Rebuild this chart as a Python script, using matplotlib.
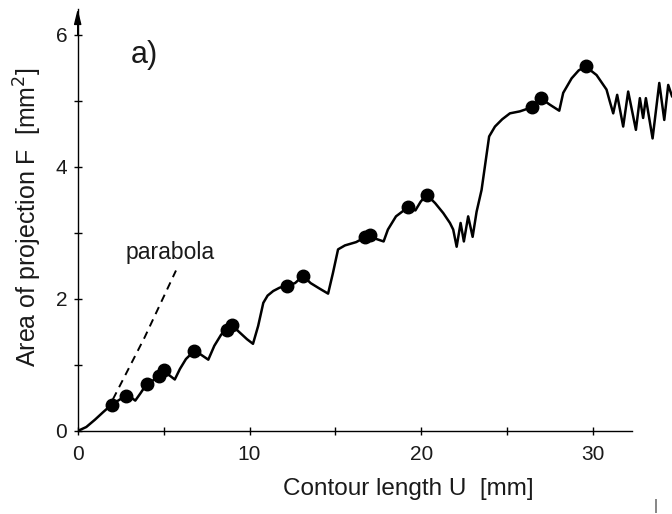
import matplotlib
matplotlib.use("Agg")
import matplotlib.pyplot as plt

# ---- data ----
contour_U = [0, 0.5, 1.0, 1.5, 1.98, 2.35, 2.79, 3.1, 3.35, 3.65,
             4.01, 4.35, 4.73, 5.00, 5.3, 5.65, 5.95, 6.3, 6.77, 7.15,
             7.6, 7.95, 8.35, 8.67, 8.96, 9.35, 9.85, 10.2, 10.5, 10.8,
             11.05, 11.38, 11.75, 12.19, 12.65, 13.12, 13.55, 14.05, 14.57, 14.85,
             15.15, 15.55, 16.2, 16.71, 17.00, 17.35, 17.8, 18.05, 18.52, 19.23,
             19.65, 19.95, 20.30, 20.8, 21.27, 21.66, 21.85, 22.05, 22.28, 22.47,
             22.72, 22.98, 23.21, 23.5, 23.75, 23.94, 24.28, 24.7, 25.15, 25.73,
             26.41, 26.93, 27.48, 28.02, 28.25, 28.74, 29.15, 29.55, 30.19, 30.77,
             30.95, 31.16, 31.39, 31.74, 32.03, 32.48, 32.71, 32.9, 33.06, 33.45,
             33.84, 34.13, 34.36, 34.58]
area_F = [0, 0.06, 0.17, 0.29, 0.40, 0.46, 0.53, 0.51, 0.46, 0.57,
          0.71, 0.76, 0.83, 0.92, 0.85, 0.78, 0.94, 1.09, 1.21, 1.16,
          1.08, 1.29, 1.46, 1.53, 1.61, 1.51, 1.39, 1.32, 1.59, 1.94,
          2.05, 2.12, 2.17, 2.20, 2.24, 2.35, 2.24, 2.16, 2.08, 2.39,
          2.75, 2.81, 2.86, 2.93, 2.97, 2.91, 2.87, 3.05, 3.25, 3.39,
          3.34, 3.47, 3.58, 3.45, 3.30, 3.15, 3.05, 2.79, 3.15, 2.87,
          3.25, 2.94, 3.32, 3.65, 4.11, 4.46, 4.61, 4.72, 4.81, 4.84,
          4.90, 5.04, 4.94, 4.85, 5.12, 5.34, 5.46, 5.52, 5.39, 5.17,
          5.00, 4.81, 5.09, 4.61, 5.14, 4.56, 5.04, 4.74, 5.04, 4.43,
          5.27, 4.71, 5.24, 5.07]

dot_U = [1.98, 2.79, 4.01, 4.73, 5.00, 6.77, 8.67, 8.96, 12.19, 13.12,
         16.71, 17.00, 19.23, 20.30, 26.41, 26.93, 29.55]
dot_F = [0.40, 0.53, 0.71, 0.83, 0.92, 1.21, 1.53, 1.61, 2.20, 2.35,
         2.93, 2.97, 3.39, 3.58, 4.90, 5.04, 5.52]

parabola_U = [2.05, 3.9, 5.72]
parabola_F = [0.48, 1.42, 2.43]

x_ticks = [0, 5, 10, 15, 20, 25, 30]
x_tick_labels = ["0", "", "10", "", "20", "", "30"]
y_ticks = [0, 1, 2, 3, 4, 5, 6]
y_tick_labels = ["0", "", "2", "", "4", "", "6"]

# ---- figure ----
plt.rcParams['font.family'] = ['Liberation Sans', 'DejaVu Sans']
txt = '#1a1a1a'

fig = plt.figure(figsize=(6.72, 5.14), dpi=100)
ax = fig.add_axes([0.1156, 0.1615, 1 - 0.1156, 0.9825 - 0.1615])

ax.plot(contour_U, area_F, color='black', lw=1.8, solid_joinstyle='round')
ax.plot(dot_U, dot_F, 'o', color='black', ms=9)
ax.plot(parabola_U, parabola_F, color='black', lw=1.4, ls=(0, (4, 3)))

ax.set_xlim(0, 34.58)
ax.set_ylim(0, 6.39)

for s in ['top', 'right']:
    ax.spines[s].set_visible(False)
ax.spines['bottom'].set_bounds(0, 32.23)
for s in ['left', 'bottom']:
    ax.spines[s].set_linewidth(1.0)
    ax.spines[s].set_color('black')

ax.set_xticks(x_ticks)
ax.set_xticklabels(x_tick_labels)
ax.set_yticks(y_ticks)
ax.set_yticklabels(y_tick_labels)
ax.tick_params(axis='both', direction='inout', length=6, width=1.0,
               labelsize=15, labelcolor=txt)
ax.tick_params(axis='x', pad=7)
ax.tick_params(axis='y', pad=4.5)

# arrow at top of y axis
ax.annotate("", xy=(0, 6.39), xytext=(0, 6.0), xycoords='data',
            arrowprops=dict(arrowstyle='-|>,head_length=0.9,head_width=0.22',
                            color='black', lw=1.0, shrinkA=0, shrinkB=0),
            annotation_clip=False)

fig.text(408 / 672, 1 - 489 / 514, "Contour length U  [mm]", ha='center',
         va='center', fontsize=17.5, color=txt)
fig.text(28 / 672, 1 - 217 / 514, "Area of projection F  [mm$^2$]", ha='center',
         va='center', rotation=90, fontsize=18, color=txt)
fig.text(131 / 672, 1 - 55 / 514, "a)", ha='left', va='center', fontsize=22,
         color=txt)
fig.text(126 / 672, 1 - 253 / 514, "parabola", ha='left', va='center',
         fontsize=16.5, color=txt)
fig.text(656 / 672, 1 - 506 / 514, "|", ha='center', va='center', fontsize=11,
         color='#444444')

fig.savefig("out.png", dpi=100)
